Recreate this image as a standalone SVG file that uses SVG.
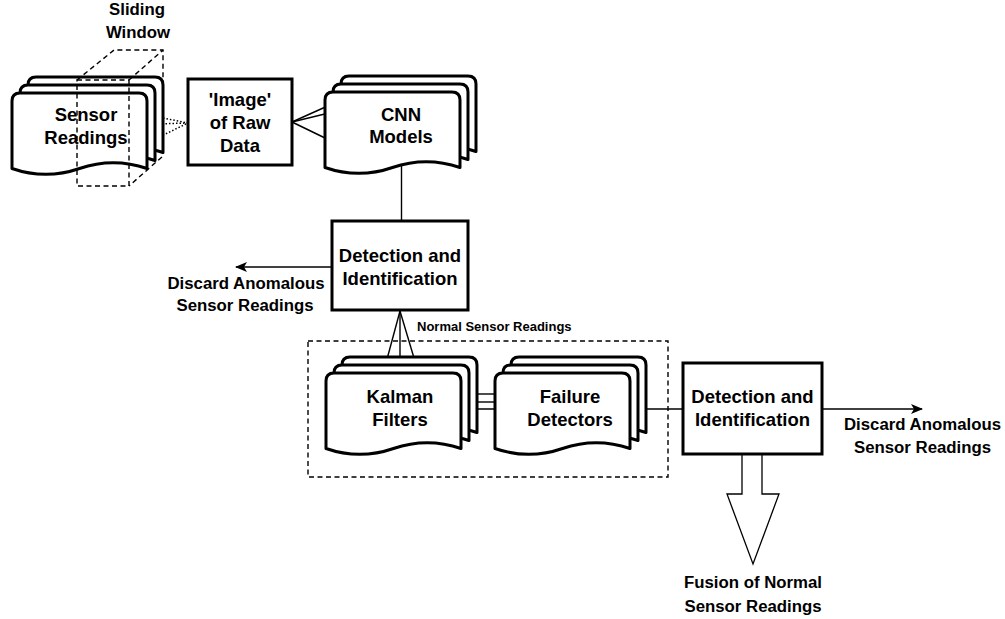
<svg xmlns="http://www.w3.org/2000/svg" width="1005" height="619" viewBox="0 0 1005 619">
  <style>
    .doc { fill: #fff; stroke: #000; stroke-width: 3; stroke-linejoin: round; }
    .box { fill: #fff; stroke: #000; stroke-width: 3; }
    .edge { fill: none; stroke: #000; stroke-width: 1.4; }
    .dotted { fill: none; stroke: #000; stroke-width: 1.5; stroke-dasharray: 1.5 2; }
    .dashed { fill: none; stroke: #000; stroke-width: 1.4; stroke-dasharray: 5 3.5; }
    .lbl { font-family: "Liberation Sans", Arial, sans-serif; font-weight: bold; font-size: 18.5px; text-anchor: middle; fill: #000; }
    .note { font-family: "Liberation Sans", Arial, sans-serif; font-weight: bold; font-size: 16.8px; text-anchor: middle; fill: #000; }
    .small { font-family: "Liberation Sans", Arial, sans-serif; font-weight: bold; font-size: 13px; fill: #000; }
  </style>
  <defs>
    <!-- document sheet: rounded top, wavy bottom -->
    <path id="sheet" class="doc" d="M0,8 Q0,0 8,0 H127 Q135,0 135,8 V75.5 Q101.25,63.8 67.5,75.5 Q33.75,87.2 0,75.5 Z"/>
    <marker id="arrow" viewBox="0 0 12 10" markerWidth="12" markerHeight="10" refX="11" refY="5" orient="auto" markerUnits="userSpaceOnUse">
      <path d="M0,0 L12,5 L0,10 L3,5 Z" fill="#000"/>
    </marker>
  </defs>

  <!-- connectors -->
  <g id="connectors">
    <!-- sensor stack to image -->
    <line class="dotted" x1="163" y1="118" x2="188" y2="123"/>
    <line class="dotted" x1="155" y1="124" x2="188" y2="123"/>
    <line class="dotted" x1="147" y1="143" x2="188" y2="123"/>
    <!-- image to CNN stack -->
    <line class="edge" x1="292" y1="122" x2="341" y2="100"/>
    <line class="edge" x1="292" y1="122" x2="333" y2="112"/>
    <line class="edge" x1="292" y1="122" x2="325" y2="138"/>
    <!-- CNN to detection -->
    <line class="edge" x1="401.5" y1="160" x2="401.5" y2="221"/>
    <!-- detection to discard -->
    <line class="edge" x1="332" y1="267" x2="236" y2="267" marker-end="url(#arrow)"/>
    <!-- detection to Kalman stack -->
    <line class="edge" x1="400" y1="311" x2="383" y2="374"/>
    <line class="edge" x1="400" y1="311" x2="400" y2="366"/>
    <line class="edge" x1="400" y1="311" x2="414" y2="358"/>
    <!-- Kalman stack to failure detectors -->
    <line class="edge" x1="476" y1="394" x2="497" y2="394"/>
    <line class="edge" x1="468" y1="402" x2="497" y2="402"/>
    <line class="edge" x1="460" y1="409" x2="497" y2="409"/>
    <!-- failure detectors to second detection -->
    <line class="edge" x1="646" y1="409" x2="683" y2="409"/>
    <!-- second detection to discard -->
    <line class="edge" x1="822" y1="409" x2="922" y2="409" marker-end="url(#arrow)"/>
    <!-- fusion block arrow -->
    <polygon points="742,454 742,494 727,494 753,564 779,494 762,494 762,454" fill="#fff" stroke="#000" stroke-width="1.3" stroke-linejoin="miter"/>
  </g>

  <!-- sensor readings stack -->
  <g id="sensor-readings">
    <use href="#sheet" x="28" y="77"/>
    <use href="#sheet" x="20" y="85"/>
    <use href="#sheet" x="12" y="93"/>
    <text class="lbl" x="86" y="121">Sensor</text>
    <text class="lbl" x="86" y="144">Readings</text>
  </g>

  <!-- sliding window -->
  <g id="sliding-window">
    <rect class="dashed" x="77" y="80" width="52" height="106"/>
    <polyline class="dashed" points="77,80 114,50 163,50 163,156 129,186"/>
    <line class="dashed" x1="129" y1="80" x2="163" y2="50"/>
    <text class="note" x="137" y="15">Sliding</text>
    <text class="note" x="138" y="38">Window</text>
  </g>

  <!-- image of raw data -->
  <g id="image-raw-data">
    <rect class="box" x="188" y="79" width="104" height="86"/>
    <text class="lbl" x="240" y="106">'Image'</text>
    <text class="lbl" x="240" y="129">of Raw</text>
    <text class="lbl" x="240" y="152">Data</text>
  </g>

  <!-- CNN models stack -->
  <g id="cnn-models">
    <use href="#sheet" x="341" y="76"/>
    <use href="#sheet" x="333" y="84"/>
    <use href="#sheet" x="325" y="92"/>
    <text class="lbl" x="401" y="121">CNN</text>
    <text class="lbl" x="401" y="143">Models</text>
  </g>

  <!-- first detection and identification -->
  <g id="detection-1">
    <rect class="box" x="332" y="221" width="136" height="89"/>
    <text class="lbl" x="400" y="262">Detection and</text>
    <text class="lbl" x="400" y="285">Identification</text>
  </g>

  <g id="discard-1">
    <text class="note" x="246" y="289">Discard Anomalous</text>
    <text class="note" x="245" y="311">Sensor Readings</text>
  </g>

  <g id="normal-label">
    <text class="small" x="417" y="331">Normal Sensor Readings</text>
  </g>

  <!-- filter bank container -->
  <g id="filter-bank">
    <rect class="dashed" x="308" y="341" width="360" height="136"/>
  </g>

  <!-- Kalman filters stack -->
  <g id="kalman-filters">
    <use href="#sheet" x="342" y="357"/>
    <use href="#sheet" x="334" y="365"/>
    <use href="#sheet" x="326" y="373"/>
    <text class="lbl" x="400" y="403">Kalman</text>
    <text class="lbl" x="400" y="426">Filters</text>
  </g>

  <!-- failure detectors stack -->
  <g id="failure-detectors">
    <use href="#sheet" x="511" y="357"/>
    <use href="#sheet" x="503" y="365"/>
    <use href="#sheet" x="495" y="373"/>
    <text class="lbl" x="570" y="403">Failure</text>
    <text class="lbl" x="570" y="426">Detectors</text>
  </g>

  <!-- second detection and identification -->
  <g id="detection-2">
    <rect class="box" x="683" y="363" width="139" height="91"/>
    <text class="lbl" x="752.5" y="403">Detection and</text>
    <text class="lbl" x="752.5" y="426">Identification</text>
  </g>

  <g id="discard-2">
    <text class="note" x="922.5" y="430">Discard Anomalous</text>
    <text class="note" x="922.5" y="453">Sensor Readings</text>
  </g>

  <g id="fusion">
    <text class="note" x="753" y="588">Fusion of Normal</text>
    <text class="note" x="753" y="612">Sensor Readings</text>
  </g>
</svg>
